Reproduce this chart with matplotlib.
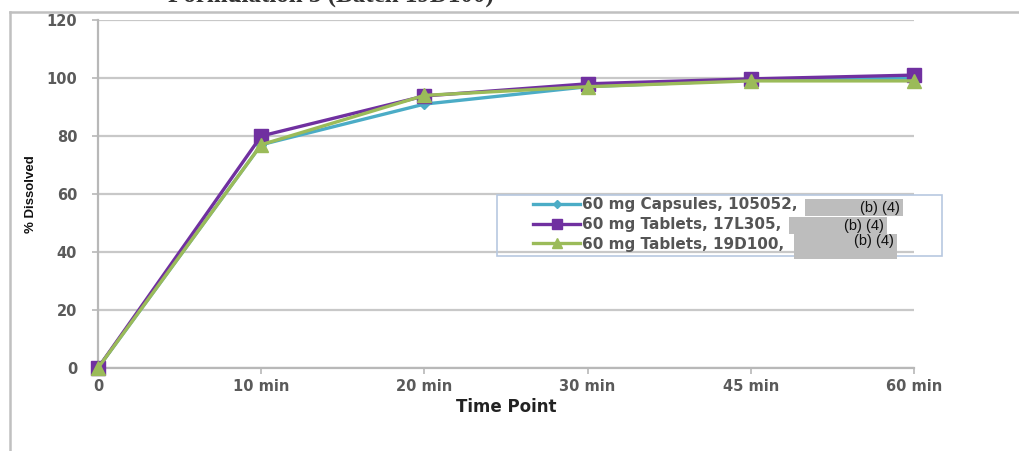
import matplotlib
matplotlib.use("Agg")
import matplotlib.pyplot as plt
from matplotlib.lines import Line2D
from matplotlib.patches import Rectangle

categories = ["0", "10 min", "20 min", "30 min", "45 min", "60 min"]
capsules_105052 = [0, 77, 91, 97, 99.3, 100]
tablets_17L305 = [0, 80, 93.8, 98, 99.7, 101]
tablets_19D100 = [0, 77, 94, 97, 99, 99]
series_labels = ["60 mg Capsules, 105052,", "60 mg Tablets, 17L305,", "60 mg Tablets, 19D100,"]
yticks = [0, 20, 40, 60, 80, 100, 120]

W, H = 1020, 451
fig = plt.figure(figsize=(W / 100, H / 100), dpi=100)

def fx(px):
    return px / W

def fy(py):
    return 1 - py / H

ax = fig.add_axes([fx(98), fy(368), fx(914) - fx(98), fy(20) - fy(368)])
x = list(range(len(categories)))

ax.plot(x, capsules_105052, color="#4BACC6", lw=2.4, marker="D", ms=5.5, label=series_labels[0], zorder=3, clip_on=False)
ax.plot(x, tablets_17L305, color="#7030A0", lw=2.4, marker="s", ms=10, label=series_labels[1], zorder=4, clip_on=False)
ax.plot(x, tablets_19D100, color="#9BBB59", lw=2.4, marker="^", ms=10, label=series_labels[2], zorder=5, clip_on=False)

ax.set_xlim(0, len(categories) - 1)
ax.set_ylim(0, 120)
ax.set_xticks(x)
ax.set_xticklabels(categories)
ax.set_yticks(yticks)
ax.yaxis.grid(True, color="#c8c8c8", lw=1.6)
ax.set_axisbelow(True)
for s in ["top", "right"]:
    ax.spines[s].set_visible(False)
for s in ["left", "bottom"]:
    ax.spines[s].set_color("#b8b8b8")
    ax.spines[s].set_linewidth(1.6)
ax.tick_params(axis="both", colors="#b8b8b8", length=4, width=1.2, labelcolor="#5a5a5a", labelsize=10.5)
ax.tick_params(axis="y", pad=11)
ax.tick_params(axis="x", pad=4)
for lab in ax.get_xticklabels() + ax.get_yticklabels():
    lab.set_fontweight("bold")

ax.set_xlabel("Time Point", fontsize=12, fontweight="bold", color="#222222", labelpad=3)
fig.text(fx(31), fy(194), "% Dissolved", rotation=90, ha="center", va="center",
         fontsize=9.5, fontweight="bold", color="#111111",
         family=["Liberation Sans", "DejaVu Sans"])

# legend (frame drawn separately)
fig.add_artist(Rectangle((fx(497), fy(256)), fx(942) - fx(497), (256 - 195) / H, transform=fig.transFigure,
                         facecolor="none", edgecolor="#b8c8e0", lw=1.2, zorder=6))
leg = ax.legend(loc="upper left", bbox_to_anchor=(fx(533), fy(197)), bbox_transform=fig.transFigure,
                frameon=False, fontsize=11, handlelength=3.1, handletextpad=0.12, labelspacing=0.32,
                borderpad=0, borderaxespad=0, markerscale=0.75)
for t in leg.get_texts():
    t.set_color("#555555")
    t.set_fontweight("bold")

# redaction boxes
boxes = [(805, 199, 98, 17, 208), (789, 217, 98, 17, 226), (794, 234, 103, 25, 241)]
for bx, by, bw, bh, ty in boxes:
    fig.add_artist(Rectangle((fx(bx), fy(by + bh)), fx(bw), bh / H, transform=fig.transFigure,
                             facecolor="#bdbdbd", edgecolor="none", zorder=10))
    fig.text(fx(bx + bw - 3), fy(ty), "(b) (4)", ha="right", va="center", fontsize=10.5,
             color="#111111", family=["Liberation Sans", "DejaVu Sans"], zorder=11)

# outer frame
fig.add_artist(Line2D([fx(10), 1], [fy(12), fy(12)], transform=fig.transFigure, color="#c0c0c0", lw=1.8))
fig.add_artist(Line2D([fx(10), fx(10)], [fy(12), 0], transform=fig.transFigure, color="#c0c0c0", lw=1.8))

# cropped title (cut off at the top edge, as in the source)
fig.text(fx(168), fy(2), "Formulation 3 (Batch 19D100)", ha="left", va="baseline",
         fontsize=18, fontweight="bold", color="#333333", family=["Liberation Serif", "DejaVu Serif"])

fig.savefig("out.png", dpi=100)
